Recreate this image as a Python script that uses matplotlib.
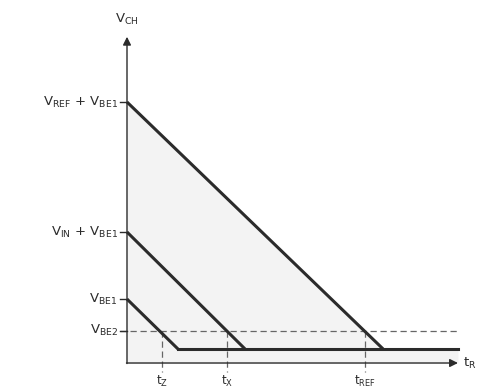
import matplotlib
matplotlib.use("Agg")
import matplotlib.pyplot as plt
import numpy as np

# charge voltage levels (arbitrary units) and ramp end times
level_names = ["$\\mathrm{V}_{\\mathrm{REF}}$ + $\\mathrm{V}_{\\mathrm{BE1}}$",
               "$\\mathrm{V}_{\\mathrm{IN}}$ + $\\mathrm{V}_{\\mathrm{BE1}}$",
               "$\\mathrm{V}_{\\mathrm{BE1}}$"]
level_start = [10.0, 5.02, 2.45]
ramp_end_t = [9.81, 4.52, 1.95]
floor_v = 0.54
floor_end_t = 12.68

vbe2 = 1.23
cross_names = ["$\\mathrm{t}_{\\mathrm{Z}}$", "$\\mathrm{t}_{\\mathrm{X}}$", "$\\mathrm{t}_{\\mathrm{REF}}$"]
cross_t = [1.34, 3.83, 9.12]

ink = "#2b2b2b"
plt.rcParams["mathtext.fontset"] = "dejavusans"

fig = plt.figure(figsize=(4.83, 3.89), dpi=100)
ax = fig.add_axes([0, 0, 1, 1])
ax.set_xlim(-4.866, 13.64)
ax.set_ylim(-0.996, 13.91)
ax.axis("off")

# light shading under the reference ramp
ax.fill_between([0, ramp_end_t[0], floor_end_t], [level_start[0], floor_v, floor_v], 0,
                color="#f3f3f3", lw=0, zorder=0)

# ramps
for v0, t1 in zip(level_start, ramp_end_t):
    ax.plot([0, t1], [v0, floor_v], color=ink, lw=2.2, solid_capstyle="butt", zorder=3)
ax.plot([ramp_end_t[2], floor_end_t], [floor_v, floor_v], color=ink, lw=2.2, zorder=3)

# V_BE2 threshold and crossing times
ax.plot([-0.25, floor_end_t], [vbe2, vbe2], color="#666666", lw=0.9, ls=(0, (5, 3)), zorder=2)
for t in cross_t:
    ax.plot([t, t], [vbe2, -0.35], color="#666666", lw=0.9, ls=(0, (5, 3)), zorder=2)

# axes with arrows
ax.annotate("", xy=(0, 12.5), xytext=(0, -0.02),
            arrowprops=dict(arrowstyle="-|>", lw=1.0, color=ink, mutation_scale=12, shrinkA=0, shrinkB=0))
ax.annotate("", xy=(floor_end_t, 0), xytext=(-0.02, 0),
            arrowprops=dict(arrowstyle="-|>", lw=1.0, color=ink, mutation_scale=12, shrinkA=0, shrinkB=0))

# y ticks and labels
for name, v in zip(level_names + ["$\\mathrm{V}_{\\mathrm{BE2}}$"], level_start + [vbe2]):
    ax.plot([-0.25, 0], [v, v], color=ink, lw=1.0)
    ax.text(-0.35, v, name, ha="right", va="center", fontsize=9.5, color=ink)

for name, t in zip(cross_names, cross_t):
    ax.text(t, -0.42, name, ha="center", va="top", fontsize=8.5, color=ink)

ax.text(0, 13.15, "$\\mathrm{V}_{\\mathrm{CH}}$", ha="center", va="center", fontsize=9.5, color=ink)
ax.text(floor_end_t + 0.2, -0.02, "$\\mathrm{t}_{\\mathrm{R}}$", ha="left", va="center", fontsize=9.5, color=ink)

fig.savefig("out.png", dpi=100)
